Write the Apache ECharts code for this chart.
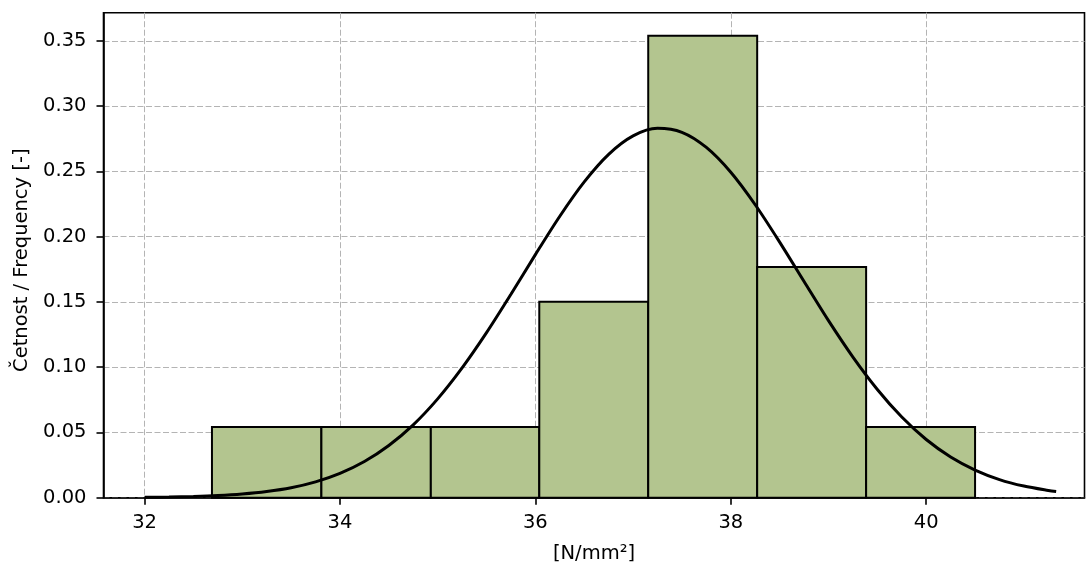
<!DOCTYPE html>
<html>
<head>
<meta charset="utf-8">
<script src="https://cdn.jsdelivr.net/npm/echarts@6/dist/echarts.min.js"></script>
<style>
  html, body { margin: 0; padding: 0; background: #fff; }
  #chart { width: 1086px; height: 563px; }
</style>
</head>
<body>
<div id="chart"></div>
<script>
// histogram bins (edges) and bar heights
const binEdges = [32.69, 33.81, 34.93, 36.04, 37.155, 38.27, 39.385, 40.50];
const binHeights = [0.0541, 0.0541, 0.0541, 0.150, 0.3538, 0.1767, 0.0541];

// fitted curve
const curveX = [32.00, 32.25, 32.50, 32.75, 33.00, 33.25, 33.50, 33.75, 34.00, 34.25,
  34.50, 34.75, 35.00, 35.25, 35.50, 35.75, 36.00, 36.25, 36.50, 36.75,
  37.00, 37.25, 37.50, 37.75, 38.00, 38.25, 38.50, 38.75, 39.00, 39.25,
  39.50, 39.75, 40.00, 40.25, 40.50, 40.75, 41.00, 41.25, 41.33];
const curveY = [0.0003, 0.0005, 0.0009, 0.0016, 0.0028, 0.0047, 0.0076, 0.0121, 0.0186, 0.0277,
  0.0400, 0.0558, 0.0757, 0.0994, 0.1264, 0.1558, 0.1862, 0.2156, 0.2419, 0.2630,
  0.2771, 0.2829, 0.2799, 0.2683, 0.2493, 0.2244, 0.1958, 0.1656, 0.1356, 0.1077,
  0.0829, 0.0618, 0.0446, 0.0312, 0.0212, 0.0139, 0.0089, 0.0055, 0.0047];

const xTicks = [32, 34, 36, 38, 40];
const yTicks = [0, 0.05, 0.10, 0.15, 0.20, 0.25, 0.30, 0.35];

const font = "DejaVu Sans";
const fs = 19.5;

const bars = binHeights.map((h, i) => [binEdges[i], binEdges[i + 1], h]);
const curve = curveX.map((x, i) => [x, curveY[i]]);

const chart = echarts.init(document.getElementById("chart"));
chart.setOption({
  animation: false,
  grid: {
    left: 103.5,
    right: 1.5,
    top: 12.7,
    bottom: 65.3,
    show: true,
    borderColor: "#000",
    borderWidth: 1.6,
    containLabel: false,
    outerBoundsMode: "none"
  },
  xAxis: {
    type: "value",
    min: 31.58,
    max: 41.62,
    name: "[N/mm²]",
    nameLocation: "middle",
    nameGap: 46,
    nameTextStyle: { fontFamily: font, fontSize: fs, color: "#000" },
    axisLine: { show: true, onZero: false, lineStyle: { color: "#000", width: 1.6 } },
    axisTick: { show: true, inside: false, length: 7, customValues: xTicks, lineStyle: { color: "#000", width: 1.6 } },
    axisLabel: {
      customValues: xTicks,
      margin: 15,
      fontFamily: font,
      fontSize: fs,
      color: "#000",
      formatter: v => String(v)
    },
    splitLine: { show: true, lineStyle: { color: "#b4b4b4", width: 1, type: [6, 2.5] } }
  },
  yAxis: {
    type: "value",
    min: 0,
    max: 0.3715,
    name: "Četnost / Frequency [-]",
    nameLocation: "middle",
    nameGap: 71,
    nameTextStyle: { fontFamily: font, fontSize: fs, color: "#000", padding: [0, 10, 0, 0] },
    axisLine: { show: true, onZero: false, lineStyle: { color: "#000", width: 1.6 } },
    axisTick: { show: true, inside: false, length: 7, customValues: yTicks, lineStyle: { color: "#000", width: 1.6 } },
    axisLabel: {
      customValues: yTicks,
      margin: 17,
      fontFamily: font,
      fontSize: fs,
      color: "#000",
      formatter: v => v.toFixed(2)
    },
    splitLine: { show: true, lineStyle: { color: "#b4b4b4", width: 1, type: [6, 2.5] } }
  },
  series: [
    {
      type: "custom",
      name: "histogram",
      z: 2,
      encode: { x: [0, 1], y: 2 },
      data: bars,
      renderItem: function (params, api) {
        const p0 = api.coord([api.value(0), 0]);
        const p1 = api.coord([api.value(1), api.value(2)]);
        return {
          type: "rect",
          shape: { x: p0[0], y: p1[1], width: p1[0] - p0[0], height: p0[1] - p1[1] },
          style: { fill: "#b3c58f", stroke: "#000", lineWidth: 2 }
        };
      }
    },
    {
      type: "line",
      name: "curve",
      z: 3,
      data: curve,
      smooth: 0.3,
      symbol: "none",
      lineStyle: { color: "#000", width: 3 }
    }
  ]
});
</script>
</body>
</html>
